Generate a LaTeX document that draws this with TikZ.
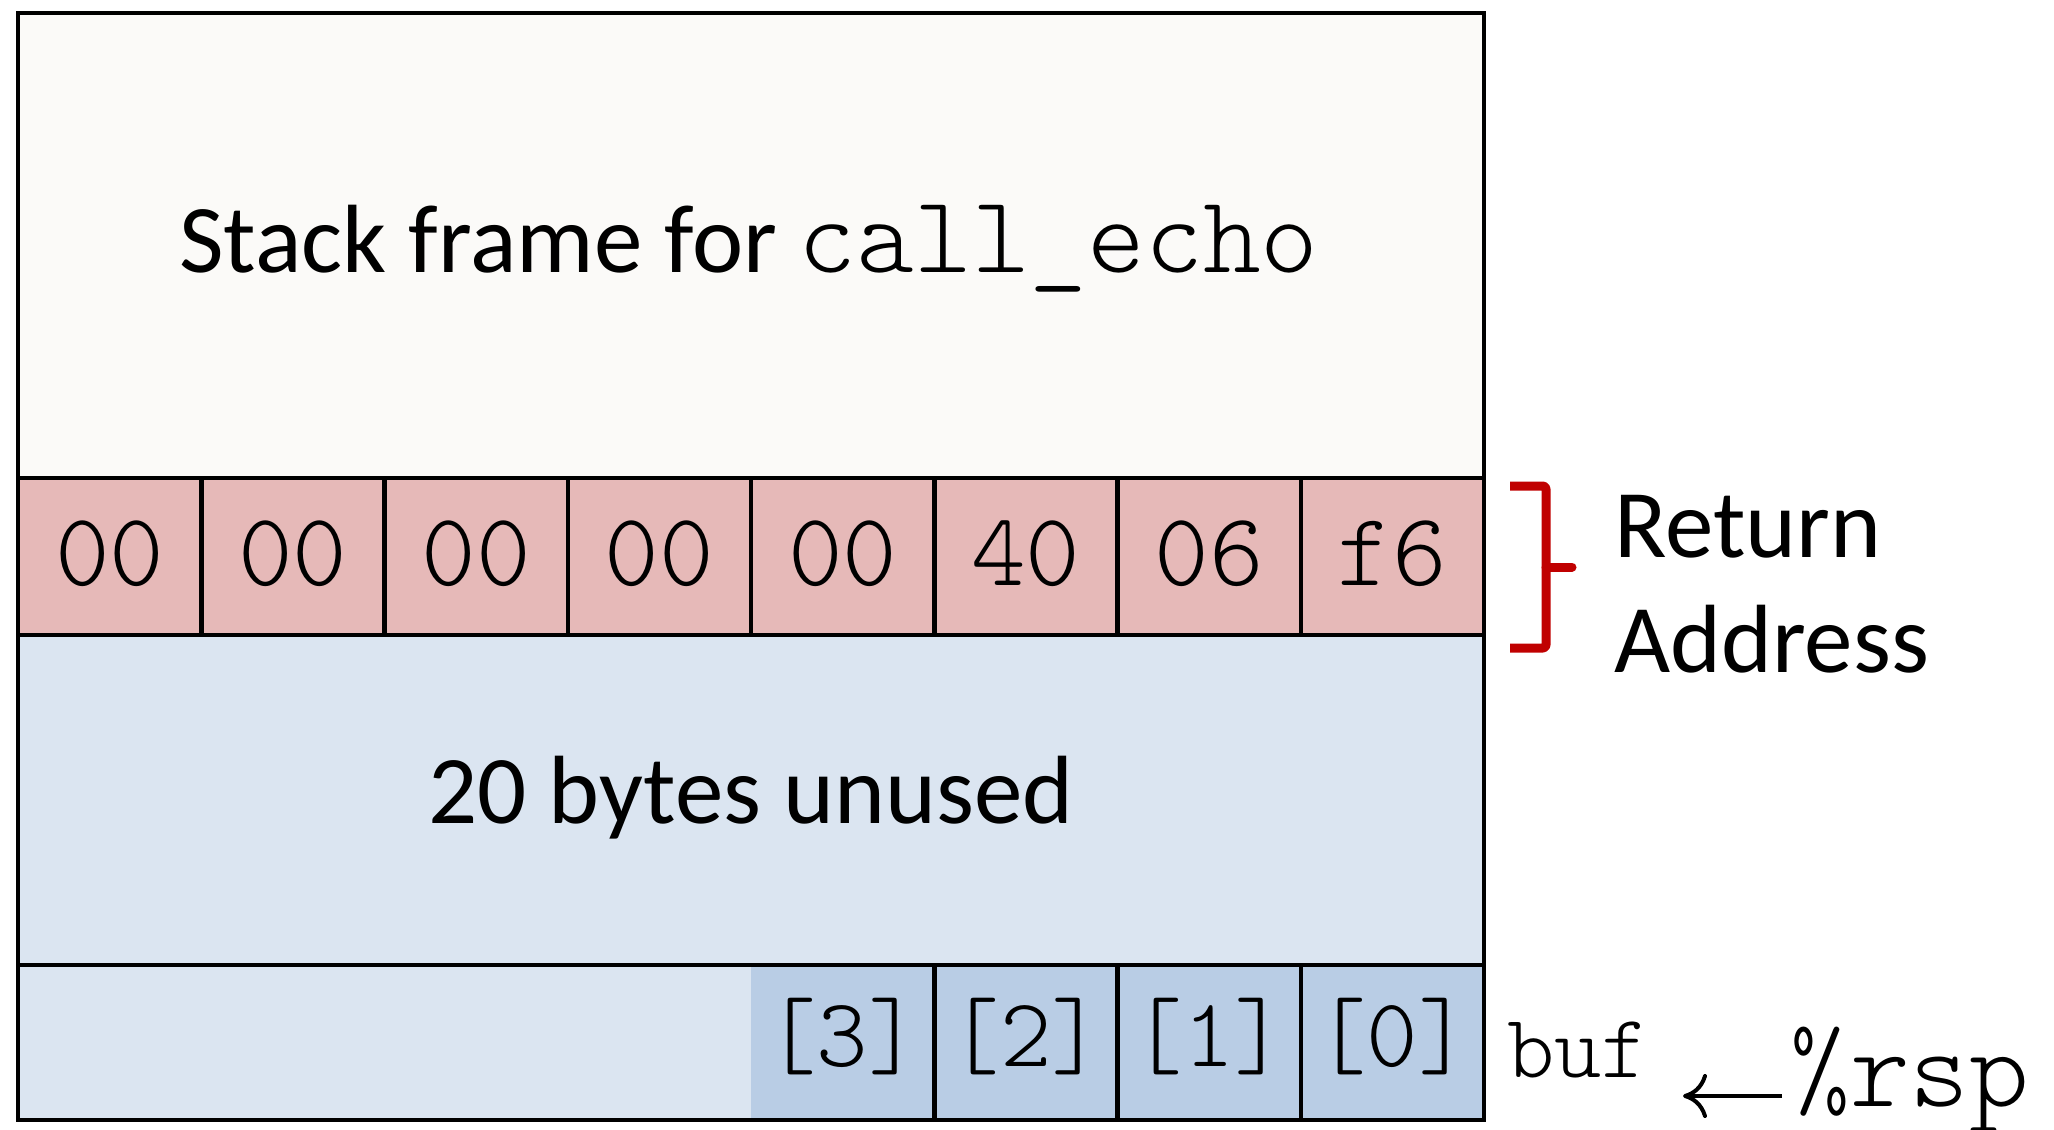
\documentclass[tikz,border=0pt]{standalone}
\usepackage{fontspec}
\setmainfont{Carlito}
\newfontfamily\monolight{Latin Modern Mono Light}
\usetikzlibrary{arrows.meta}
\definecolor{topfill}{HTML}{FBFAF8}
\definecolor{redfill}{HTML}{E6B9B8}
\definecolor{lightblue}{HTML}{DBE5F1}
\definecolor{darkblue}{HTML}{B9CDE5}
\definecolor{bracered}{HTML}{C00000}
\begin{document}
\begin{tikzpicture}[x=1pt,y=-1pt,
  border/.style={draw=black,line width=4.5pt,line join=miter},
  bigtxt/.style={anchor=base,inner sep=0pt,font=\fontsize{97}{115}\selectfont},
  hextxt/.style={anchor=base,inner sep=0pt,font=\fontsize{104}{115}\selectfont\monolight},
  idxtxt/.style={anchor=base,inner sep=0pt,font=\fontsize{98}{115}\selectfont\monolight},
  bracestyle/.style={draw=bracered,line width=9pt,line cap=butt,line join=round,rounded corners=3pt}]
\useasboundingbox (0,0) rectangle (2054,1130);
% fills
\fill[topfill] (18,13) rectangle (1484,478);
\fill[redfill] (18,478) rectangle (1484,635);
\fill[lightblue] (18,635) rectangle (1484,965);
\fill[lightblue] (18,965) rectangle (751,1120);
\fill[darkblue] (751,965) rectangle (1484,1120);
% borders
\draw[border] (18,13) rectangle (1484,1120);
\draw[border] (18,478) -- (1484,478);
\draw[border] (18,635) -- (1484,635);
\draw[border] (18,965) -- (1484,965);
\foreach \x in {201.25,384.5,567.75,751,934.25,1117.5,1300.75}
  \draw[border] (\x,478) -- (\x,635);
\foreach \x in {934.25,1117.5,1300.75}
  \draw[border] (\x,965) -- (\x,1120);
% texts
\node[bigtxt] (sf) at (749,272) {Stack frame for {\monolight\fontsize{110}{120}\selectfont call\_echo}};
\node[hextxt] (h1) at (109.6,585) {00};
\node[hextxt] (h2) at (292.9,585) {00};
\node[hextxt] (h3) at (476.1,585) {00};
\node[hextxt] (h4) at (659.4,585) {00};
\node[hextxt] (h5) at (842.6,585) {00};
\node[hextxt] (h6) at (1025.9,585) {40};
\node[hextxt] (h7) at (1209.1,585) {06};
\node[hextxt] (h8) at (1392.4,585) {f6};
\node[bigtxt] (unused) at (751,823) {20 bytes unused};
\node[idxtxt] (b3) at (842.6,1066) {[3]};
\node[idxtxt] (b2) at (1025.9,1066) {[2]};
\node[idxtxt] (b1) at (1209.1,1066) {[1]};
\node[idxtxt] (b0) at (1392.4,1066) {[0]};
\node[bigtxt,anchor=base west] (ret) at (1614,557) {Return};
\node[bigtxt,anchor=base west] (addr) at (1614,672) {Address};
\node[anchor=base west,inner sep=0pt,font=\fontsize{90}{90}\selectfont\monolight] (buf) at (1507,1077) {buf};
\node[anchor=base west,inner sep=0pt,font=\fontsize{114}{115}\selectfont\monolight] (rsp) at (1790,1106) {\%rsp};
% brace
\draw[bracestyle] (1510,486) -- (1546,486) -- (1546,648) -- (1510,648);
\draw[bracestyle,rounded corners=0pt,line cap=round] (1546,567) -- (1572,567);
% arrow
\coordinate (arrR) at (1782,1096);
\coordinate (arrL) at (1683,1096);
\draw[line width=4pt,-{Computer Modern Rightarrow[length=24pt,width=44pt,line width=4pt]}] (arrR) -- (arrL);
\end{tikzpicture}
\end{document}
